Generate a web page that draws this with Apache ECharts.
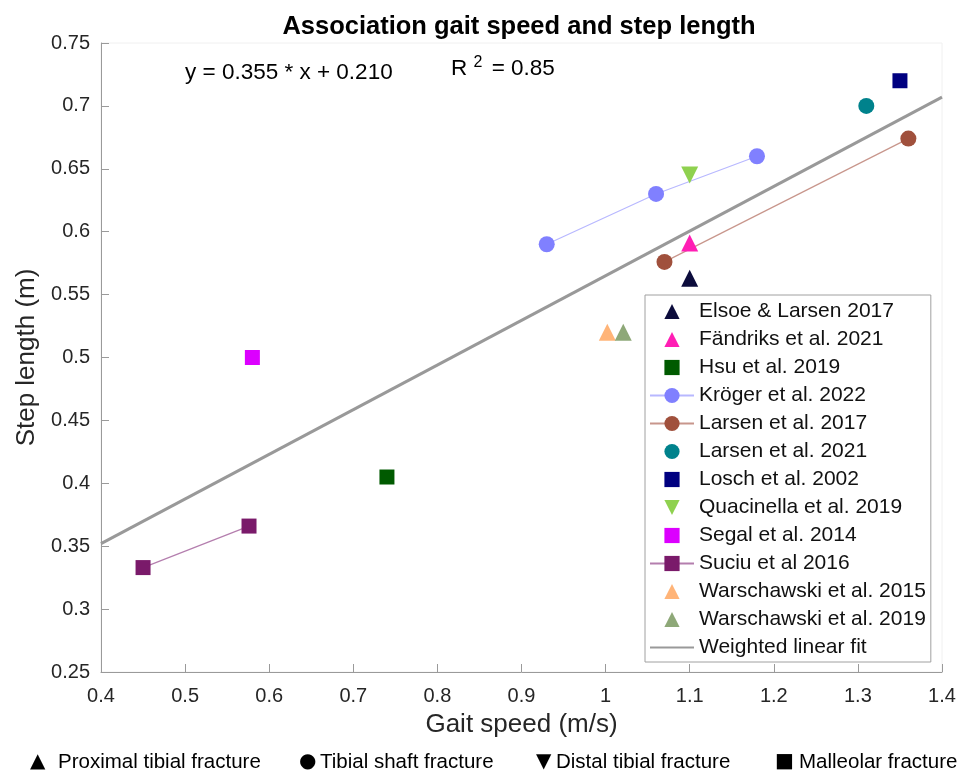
<!DOCTYPE html>
<html>
<head>
<meta charset="utf-8">
<script src="https://cdn.jsdelivr.net/npm/echarts@6/dist/echarts.min.js"></script>
<style>
html,body{margin:0;padding:0;background:#fff;}
#main{width:970px;height:773px;}
</style>
</head>
<body>
<div id="main"></div>
<script>
// data: [gait speed, step length]
var elsoe2017 = [[1.10, 0.563]];
var fandriks2021 = [[1.10, 0.591]];
var hsu2019 = [[0.74, 0.405]];
var kroger2022 = [[0.93, 0.590], [1.06, 0.630], [1.18, 0.660]];
var larsen2017 = [[1.07, 0.576], [1.36, 0.674]];
var larsen2021 = [[1.31, 0.700]];
var losch2002 = [[1.35, 0.720]];
var quacinella2019 = [[1.10, 0.645]];
var segal2014 = [[0.58, 0.500]];
var suciu2016 = [[0.45, 0.333], [0.576, 0.366]];
var warsch2015 = [[1.002, 0.520]];
var warsch2019 = [[1.021, 0.520]];
var fitLine = [[0.4, 0.352], [1.4, 0.707]];

var fractureIcons = ['▲', '●', '▼', '■'];
var fractureTypes = ['Proximal tibial fracture', 'Tibial shaft fracture', 'Distal tibial fracture', 'Malleolar fracture'];

var font = 'Liberation Sans, Arial, sans-serif';

// unconnected studies: line series with hidden line so legend keeps symbol shape
function dots(name, data, symbol, color, size, rotate){
    return {
        name: name, type: 'line', data: data, symbol: symbol,
        symbolSize: size, symbolRotate: rotate || 0,
        itemStyle: {color: color},
        lineStyle: {width: 0, opacity: 0},
        z: 5
    };
}
function joined(name, data, symbol, color, lineColor, size){
    return {
        name: name, type: 'line', data: data, symbol: symbol, symbolSize: size,
        itemStyle: {color: color},
        lineStyle: {color: lineColor, width: 1.2},
        z: 5
    };
}

var bottomText = [];
var iconX = [30, 299, 536, 775];
var textX = [58, 320, 556, 799];
for (var i = 0; i < fractureTypes.length; i++) {
    bottomText.push({type: 'text', left: iconX[i], top: 752, style: {text: fractureIcons[i], fontSize: 20, fill: '#000', fontFamily: 'DejaVu Sans'}});
    bottomText.push({type: 'text', left: textX[i], top: 752, style: {text: fractureTypes[i], fontSize: 20.5, fill: '#000', fontFamily: font}});
}

var myChart = echarts.init(document.getElementById('main'));
var option = {
    backgroundColor: '#fff',
    animation: false,
    textStyle: {fontFamily: font},
    title: {
        text: 'Association gait speed and step length',
        left: 514, top: 9, textAlign: 'center',
        textStyle: {fontSize: 25.5, fontWeight: 'bold', color: '#000', fontFamily: font}
    },
    grid: {left: 101, right: 28, top: 43, bottom: 101, show: true, borderColor: '#f0f0f0', borderWidth: 1},
    xAxis: {
        type: 'value', min: 0.4, max: 1.4, interval: 0.1,
        name: 'Gait speed (m/s)', nameLocation: 'middle', nameGap: 40,
        nameTextStyle: {fontSize: 26, color: '#262626'},
        axisLine: {show: true, lineStyle: {color: '#9a9a9a'}},
        axisTick: {show: true, inside: true, length: 8, lineStyle: {color: '#9a9a9a'}},
        axisLabel: {fontSize: 20, color: '#262626', margin: 14,
            formatter: function(v){ return String(Math.round(v * 10) / 10); }},
        splitLine: {show: false}
    },
    yAxis: {
        type: 'value', min: 0.25, max: 0.75, interval: 0.05,
        name: 'Step length (m)', nameLocation: 'middle', nameGap: 59,
        nameTextStyle: {fontSize: 26, color: '#262626'},
        axisLine: {show: true, lineStyle: {color: '#9a9a9a'}},
        axisTick: {show: true, inside: true, length: 8, lineStyle: {color: '#9a9a9a'}},
        axisLabel: {fontSize: 20, color: '#262626', margin: 11,
            formatter: function(v){ return String(Math.round(v * 100) / 100); }},
        splitLine: {show: false}
    },
    legend: {
        orient: 'vertical', left: 645, top: 295,
        padding: [6, 5, 4, 4],
        itemWidth: 44, itemHeight: 19, itemGap: 7,
        backgroundColor: '#fff', borderColor: '#a0a0a0', borderWidth: 1,
        textStyle: {fontSize: 21, color: '#111', fontFamily: font},
        data: ['Elsoe & Larsen 2017', 'Fändriks et al. 2021', 'Hsu et al. 2019', 'Kröger et al. 2022',
            'Larsen et al. 2017', 'Larsen et al. 2021', 'Losch et al. 2002', 'Quacinella et al. 2019',
            'Segal et al. 2014', 'Suciu et al 2016', 'Warschawski et al. 2015', 'Warschawski et al. 2019',
            {name: 'Weighted linear fit', itemStyle: {opacity: 0}}]
    },
    graphic: [
        {type: 'text', left: 185, top: 61, style: {text: 'y = 0.355 * x + 0.210', fontSize: 22.5, fill: '#000', fontFamily: font}},
        {type: 'text', left: 451, top: 55, style: {
            text: 'R {sup|2} = 0.85',
            rich: {sup: {fontSize: 16, verticalAlign: 'top', padding: [0, 3, 12, 0], fontFamily: font, fill: '#000'}},
            fontSize: 22.5, fill: '#000', fontFamily: font}}
    ].concat(bottomText),
    series: [
        {
            name: 'Weighted linear fit', type: 'line', data: fitLine, symbol: 'none',
            itemStyle: {color: '#999'}, lineStyle: {color: '#999', width: 3}, z: 3
        },
        dots('Elsoe & Larsen 2017', elsoe2017, 'triangle', '#0c0c3c', 17),
        dots('Fändriks et al. 2021', fandriks2021, 'triangle', '#ff1eb4', 17),
        dots('Hsu et al. 2019', hsu2019, 'rect', '#005a00', 15),
        joined('Kröger et al. 2022', kroger2022, 'circle', '#8080ff', '#b8b8ff', 16),
        joined('Larsen et al. 2017', larsen2017, 'circle', '#a0503c', '#c8968c', 16),
        dots('Larsen et al. 2021', larsen2021, 'circle', '#00828c', 16),
        dots('Losch et al. 2002', losch2002, 'rect', '#000080', 15),
        dots('Quacinella et al. 2019', quacinella2019, 'triangle', '#8fd14f', 17, 180),
        dots('Segal et al. 2014', segal2014, 'rect', '#dc00ff', 15),
        joined('Suciu et al 2016', suciu2016, 'rect', '#7a1a6a', '#b47eae', 15),
        dots('Warschawski et al. 2015', warsch2015, 'triangle', '#ffb478', 17),
        dots('Warschawski et al. 2019', warsch2019, 'triangle', '#8ea878', 17)
    ]
};
myChart.setOption(option);
</script>
</body>
</html>
